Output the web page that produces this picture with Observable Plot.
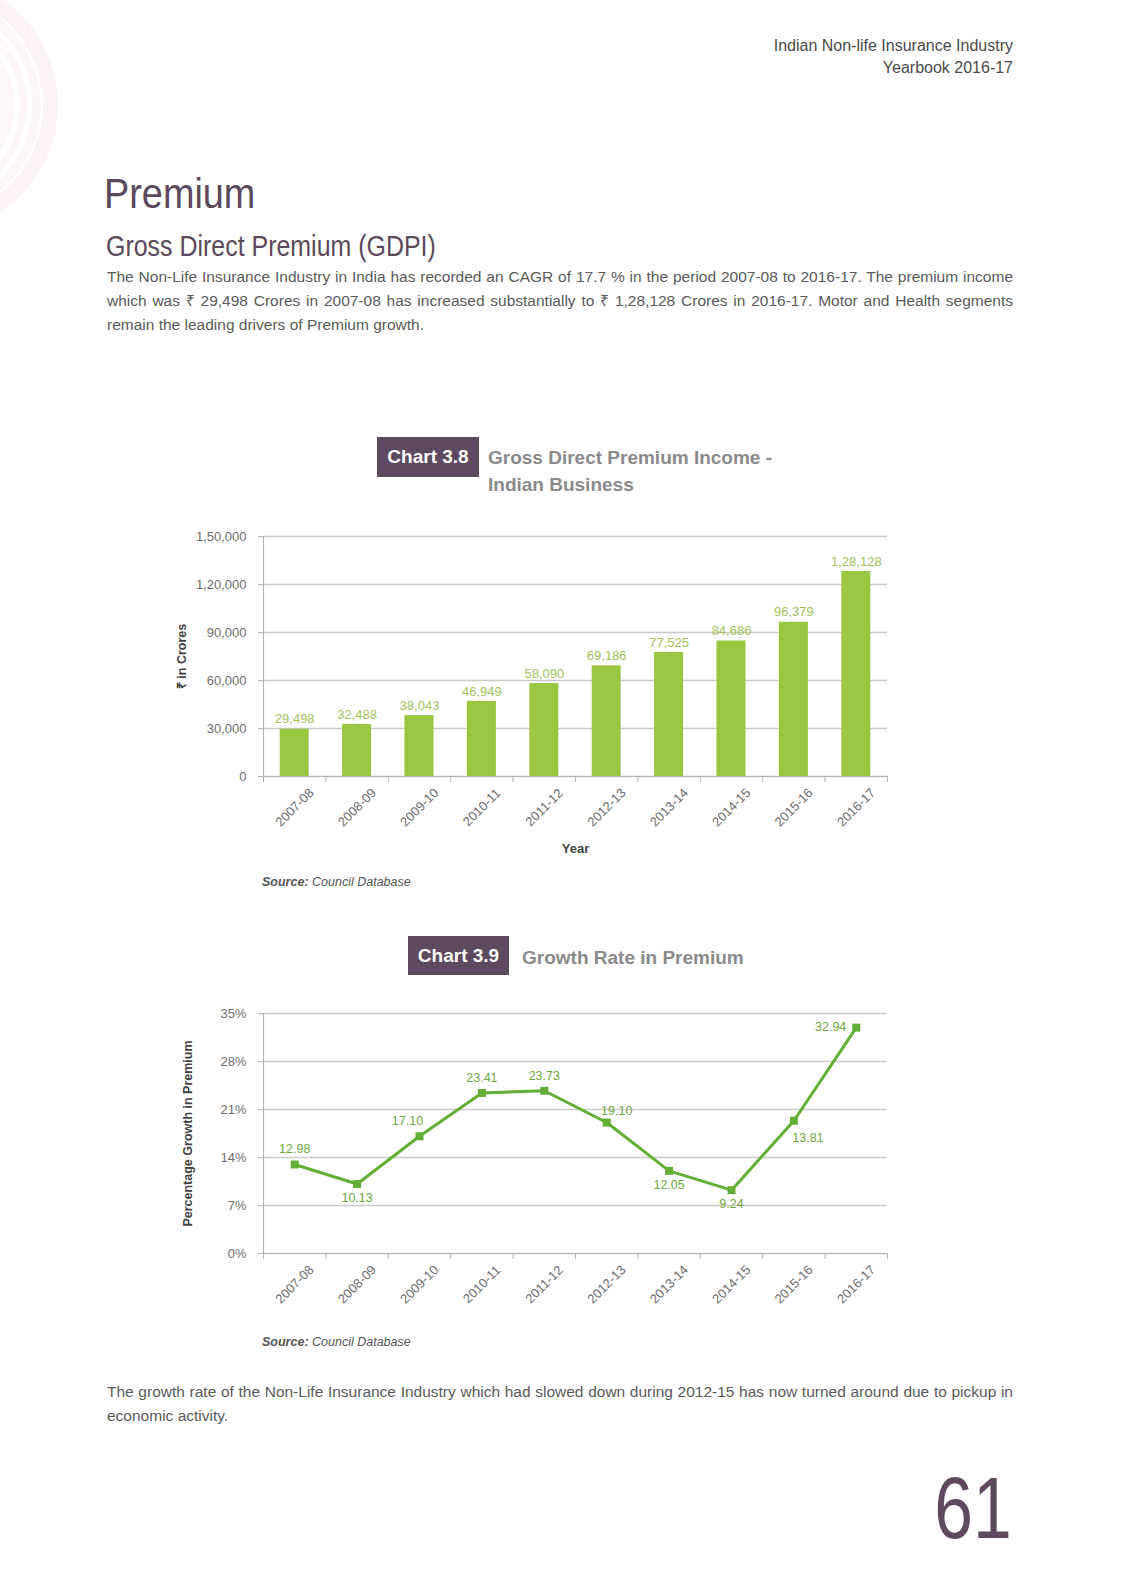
<!DOCTYPE html>
<html>
<head>
<meta charset="utf-8">
<script src="https://cdn.jsdelivr.net/npm/d3@7"></script>
<script src="https://cdn.jsdelivr.net/npm/@observablehq/plot@0.6"></script>
<style>
html, body { margin: 0; padding: 0; background: #ffffff; }
#page { position: relative; width: 1121px; height: 1577px; overflow: hidden; font-family: 'Liberation Sans', Arial, sans-serif; }
.abs { position: absolute; line-height: 1; white-space: nowrap; }
.hdr { right: 108px; font-size: 16px; color: #4a4a4a; text-align: right; }
.cond { transform-origin: left center; }
.h1 { left: 104px; top: 172px; font-size: 43px; color: #5b4a5b; transform: scaleX(0.88); }
.h2 { left: 106px; top: 232px; font-size: 29px; color: #5b4a5b; transform: scaleX(0.86); }
.para { left: 107px; font-size: 15.5px; color: #5a5a5a; }
.box { position: absolute; background: #5e4a5e; color: #fff; font-weight: bold; font-size: 19px; display: flex; align-items: center; justify-content: center; }
.ctitle { font-weight: bold; font-size: 19px; color: #8a8a8a; }
.src { left: 262px; font-size: 12.5px; font-style: italic; color: #555; }
.src b { font-weight: bold; }
.pageno { right: 109px; top: 1464px; font-size: 87px; color: #5e4a5e; transform: scaleX(0.80); transform-origin: right center; }
.chart { position: absolute; left: 0; }
</style>
</head>
<body>
<div id="page">
  <svg class="abs" style="left:0;top:0" width="140" height="240">
    <g fill="none">
      <circle cx="-70" cy="105" r="120.5" stroke="#fcf3f8" stroke-width="15"/>
      <circle cx="-70" cy="105" r="106.5" stroke="#fcf5f9" stroke-width="9"/>
      <circle cx="-70" cy="105" r="93.5" stroke="#fcf5f9" stroke-width="7"/>
      <circle cx="-70" cy="105" r="77" stroke="#fdf7fa" stroke-width="14"/>
    </g>
  </svg>

  <div class="abs hdr" style="top:38px">Indian Non-life Insurance Industry</div>
  <div class="abs hdr" style="top:59.5px">Yearbook 2016-17</div>

  <div class="abs h1 cond">Premium</div>
  <div class="abs h2 cond">Gross Direct Premium (GDPI)</div>

  <div class="abs para just" style="top:269px"><span>The Non-Life Insurance Industry in India has recorded an CAGR of 17.7 % in the period 2007-08 to 2016-17. The premium income</span></div>
  <div class="abs para just" style="top:293px"><span>which was ₹ 29,498 Crores in 2007-08 has increased substantially to ₹ 1,28,128 Crores in 2016-17. Motor and Health segments</span></div>
  <div class="abs para" style="top:317px"><span>remain the leading drivers of Premium growth.</span></div>

  <div class="box" style="left:377px;top:437px;width:102px;height:40px">Chart 3.8</div>
  <div class="abs ctitle" style="left:488px;top:448px">Gross Direct Premium Income -</div>
  <div class="abs ctitle" style="left:488px;top:475px">Indian Business</div>

  <div id="chart1" class="chart" style="top:520px"></div>
  <div class="abs src" style="top:876px"><b>Source:</b> Council Database</div>

  <div class="box" style="left:408px;top:936px;width:101px;height:39px">Chart 3.9</div>
  <div class="abs ctitle" style="left:522px;top:948px">Growth Rate in Premium</div>

  <div id="chart2" class="chart" style="top:996px"></div>
  <div class="abs src" style="top:1336px"><b>Source:</b> Council Database</div>

  <div class="abs para just" style="top:1384px"><span>The growth rate of the Non-Life Insurance Industry which had slowed down during 2012-15 has now turned around due to pickup in</span></div>
  <div class="abs para" style="top:1408px"><span>economic activity.</span></div>

  <div class="abs pageno">61</div>
</div>

<script>
// ---------- data ----------
const years = ["2007-08", "2008-09", "2009-10", "2010-11", "2011-12", "2012-13", "2013-14", "2014-15", "2015-16", "2016-17"];
const premium = [29498, 32488, 38043, 46949, 58090, 69186, 77525, 84686, 96379, 128128];
// plotted heights as drawn in the picture (the 2015-16 marker sits near 19.4 % although labelled 13.81)
const growth = [12.98, 10.13, 17.10, 23.41, 23.73, 19.10, 12.05, 9.24, 19.36, 32.94];
const growthLabels = ["12.98", "10.13", "17.10", "23.41", "23.73", "19.10", "12.05", "9.24", "13.81", "32.94"];
const premiumTicks = [0, 30000, 60000, 90000, 120000, 150000];
const growthTicks = [0, 7, 14, 21, 28, 35];
const growthLabelPlacement = ["above", "below", "aboveLeft", "above", "above", "aboveRight", "below", "below", "belowRight", "left"];

// ---------- styles ----------
const placementStyle = {
  above:      {dx: 0,   dy: -15, textAnchor: "middle"},
  below:      {dx: 0,   dy: 14,  textAnchor: "middle"},
  aboveLeft:  {dx: -12, dy: -15, textAnchor: "middle"},
  aboveRight: {dx: 10,  dy: -12, textAnchor: "middle"},
  belowRight: {dx: 14,  dy: 17,  textAnchor: "middle"},
  left:       {dx: -10, dy: -1,  textAnchor: "end"}
};
const BAR = "#99c742", LINE = "#64ad36", GRID = "#cacaca", AXIS = "#b3b3b3", TICKTEXT = "#6e6e6e";
const BARLABEL = "#a3c25c", LINELABEL = "#6fa741", AXISTITLE = "#444";
const FONT = "'Liberation Sans', Arial, sans-serif";

function fmtIN(v) {
  const s = String(Math.round(v));
  if (s.length <= 3) return s;
  const last3 = s.slice(-3);
  let rest = s.slice(0, -3);
  const parts = [];
  while (rest.length > 2) { parts.unshift(rest.slice(-2)); rest = rest.slice(0, -2); }
  if (rest) parts.unshift(rest);
  return parts.join(",") + "," + last3;
}

const n = years.length;
const common = {
  width: 1121, marginLeft: 263, marginRight: 234, marginTop: 16,
  style: {fontFamily: FONT, background: "transparent", overflow: "visible"}
};
const xPos = (d, i) => i + 0.5;

function frameMarks(ticks, fmt, title, titleDx) {
  return [
    Plot.ruleY(ticks, {stroke: GRID, strokeWidth: 1.4}),
    Plot.ruleX([0], {stroke: AXIS, strokeWidth: 1.2}),
    Plot.ruleY([0], {stroke: AXIS, strokeWidth: 1.2}),
    Plot.axisY(ticks, {tickSize: 5, tickPadding: 12, tickFormat: fmt, stroke: AXIS, fill: TICKTEXT, fontSize: 13, label: null}),
    Plot.axisX(d3.range(n + 1), {tickSize: 6, stroke: AXIS, fill: "none", label: null}),
    Plot.text(years, {x: xPos, text: d => d, frameAnchor: "bottom", rotate: -45, textAnchor: "middle", lineAnchor: "middle", dy: 31, fill: TICKTEXT, fontSize: 13}),
    Plot.text([title], {text: d => d, frameAnchor: "left", dx: titleDx, rotate: -90, textAnchor: "middle", lineAnchor: "middle", fontWeight: "bold", fontSize: 12.5, fill: AXISTITLE})
  ];
}

const chart1 = Plot.plot({
  ...common,
  height: 356, marginBottom: 100,
  x: {type: "linear", domain: [0, n], axis: null},
  y: {domain: [0, 150000], axis: null},
  marks: [
    ...frameMarks(premiumTicks, fmtIN, "₹ in Crores", -82),
    Plot.rect(premium, {x1: (d, i) => i, x2: (d, i) => i + 1, y1: 0, y2: d => d, insetLeft: 16.7, insetRight: 16.7, fill: BAR}),
    Plot.ruleY([0], {stroke: AXIS, strokeWidth: 1.2}),
    Plot.text(premium, {x: xPos, y: d => d, text: d => fmtIN(d), dy: -10, fill: BARLABEL, fontSize: 13}),
    Plot.text(["Year"], {text: d => d, frameAnchor: "bottom", dy: 76, fontWeight: "bold", fontSize: 13, fill: AXISTITLE})
  ]
});
document.getElementById("chart1").appendChild(chart1);

const labelMarks = Object.entries(placementStyle).map(([key, st]) =>
  Plot.text(growth, {
    filter: (d, i) => growthLabelPlacement[i] === key,
    x: xPos, y: d => d, text: (d, i) => growthLabels[i],
    dx: st.dx, dy: st.dy, textAnchor: st.textAnchor,
    fill: LINELABEL, fontSize: 12.5
  })
);

const chart2 = Plot.plot({
  ...common,
  height: 327, marginTop: 17, marginBottom: 70,
  x: {type: "linear", domain: [0, n], axis: null},
  y: {domain: [0, 35], axis: null},
  marks: [
    ...frameMarks(growthTicks, d => d + "%", "Percentage Growth in Premium", -75.5),
    Plot.line(growth, {x: xPos, y: d => d, stroke: LINE, strokeWidth: 3}),
    Plot.dot(growth, {x: xPos, y: d => d, symbol: "square", r: 4.5, fill: LINE, stroke: "none"}),
    ...labelMarks
  ]
});
document.getElementById("chart2").appendChild(chart2);

// justify the full-width paragraph lines
document.querySelectorAll(".just").forEach(el => {
  const span = el.querySelector("span");
  const w = span.getBoundingClientRect().width;
  const spaces = (span.textContent.match(/ /g) || []).length;
  if (spaces) span.style.wordSpacing = ((906 - w) / spaces) + "px";
});
</script>
</body>
</html>
